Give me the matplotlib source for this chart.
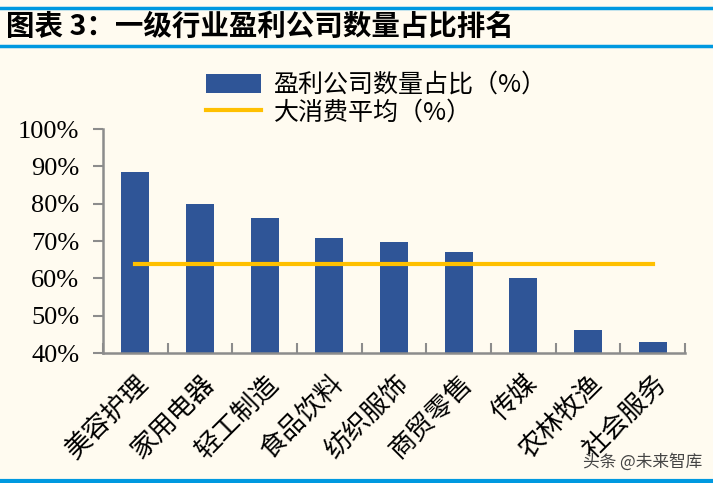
import matplotlib.pyplot as plt
import numpy as np

plt.rcParams['font.family'] = ['Noto Sans CJK SC', 'DejaVu Sans']

# data
industries = ['美容护理', '家用电器', '轻工制造', '食品饮料', '纺织服饰',
              '商贸零售', '传媒', '农林牧渔', '社会服务']
profit_share = [88.5, 80.0, 76.2, 70.8, 69.7, 67.0, 60.1, 46.2, 43.0]
consumer_avg = [63.9] * len(industries)
yticks = [40, 50, 60, 70, 80, 90, 100]

bg = '#FFFBF0'
bar_color = '#2F5597'
line_color = '#FFC000'
spine_color = '#8C8C8C'

fig = plt.figure(figsize=(7.13, 4.83), dpi=100, facecolor=bg)

# title band
fig.add_artist(plt.Line2D([0.0, 1.0], [1 - 8 / 483, 1 - 8 / 483], color='#0099E0', lw=2.5))
fig.add_artist(plt.Line2D([0.0, 1.0], [1 - 46 / 483, 1 - 46 / 483], color='#0099E0', lw=2.5))
fig.add_artist(plt.Line2D([0.0, 1.0], [1 - 481 / 483, 1 - 481 / 483], color='#0099E0', lw=3))
fig.text(0.008, 1 - 27 / 483, '图表 3：一级行业盈利公司数量占比排名', fontsize=20.5,
         fontweight='bold', va='center', ha='left', color='black')

ax = fig.add_axes([103 / 713, 1 - 353 / 483, (685 - 103) / 713, (353 - 129) / 483])
ax.set_facecolor(bg)

x = np.arange(len(industries))
bars = ax.bar(x, profit_share, width=0.43, color=bar_color, zorder=2)
line, = ax.plot(x, consumer_avg, color=line_color, lw=3, zorder=3)

ax.set_xlim(-0.5, len(industries) - 0.5)
ax.set_ylim(40, 100)
ax.set_yticks(yticks)
ax.set_yticklabels([f'{v}%' for v in yticks], family=['Liberation Serif'], fontsize=19)

ax.set_xticks(x)
ax.set_xticklabels(industries, rotation=45, ha='right', va='top',
                   rotation_mode='anchor', fontsize=19)
ax.tick_params(axis='x', length=0, pad=12)
ax.set_xticks(np.arange(len(industries) + 1) - 0.5, minor=True)
ax.tick_params(axis='x', which='minor', direction='in', length=7, width=1.5, color=spine_color)
ax.tick_params(axis='y', direction='out', length=7, width=1.5, color=spine_color, pad=10)

for s in ['top', 'right']:
    ax.spines[s].set_visible(False)
for s in ['left', 'bottom']:
    ax.spines[s].set_color(spine_color)
    ax.spines[s].set_linewidth(1.8)

fig.legend([bars, line], ['盈利公司数量占比（%）', '大消费平均（%）'],
           loc='upper left', bbox_to_anchor=(196 / 713, 1 - 62 / 483), frameon=False,
           fontsize=18, handlelength=2.2, handleheight=0.8, labelspacing=0.05,
           borderaxespad=0, handletextpad=0.5)

fig.text(0.985, 1 - 462 / 483, '头条 @未来智库', fontsize=12, color='#444444',
         ha='right', va='center')

fig.savefig('out.png', dpi=100, facecolor=bg)
